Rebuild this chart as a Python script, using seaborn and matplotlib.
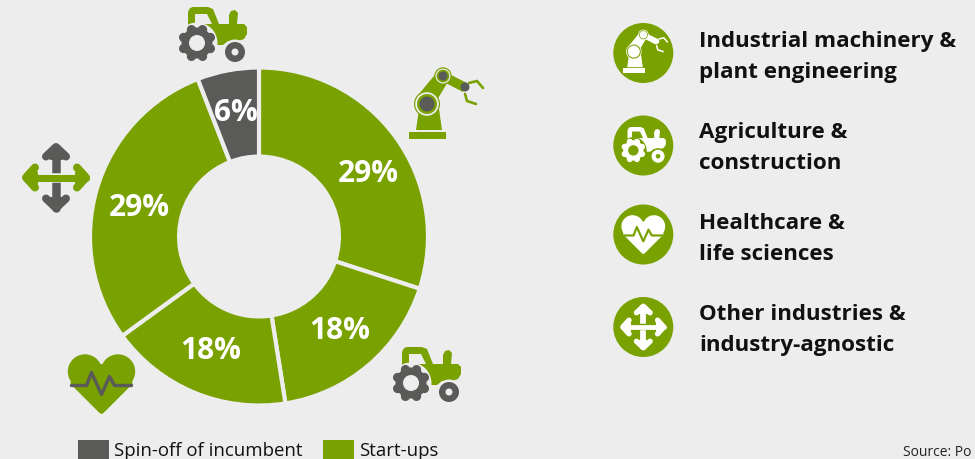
import numpy as np
import seaborn as sns
import matplotlib.pyplot as plt
from matplotlib.patches import Circle, Polygon, Rectangle, Patch
from matplotlib.lines import Line2D

industrias = ["Industrial machinery &\nplant engineering", "Agriculture &\nconstruction",
              "Healthcare &\nlife sciences", "Other industries &\nindustry-agnostic"]
valores = [30.0, 17.5, 17.5, 29.1, 5.9]
etiquetas = ["29%", "18%", "18%", "29%", "6%"]
tipo = ["Start-ups", "Start-ups", "Start-ups", "Start-ups", "Spin-off of incumbent"]
leyenda = ["Spin-off of incumbent", "Start-ups"]
fuente = "Source: Po"

VERDE = "#79A100"
GRIS = "#5A5A58"
FONDO = "#EDEDED"
colores = {"Start-ups": VERDE, "Spin-off of incumbent": GRIS}

sns.set_theme(style="white")
plt.rcParams["font.family"] = ["Open Sans", "DejaVu Sans"]

W, H = 975, 459
fig = plt.figure(figsize=(W / 100, H / 100), dpi=100, facecolor=FONDO)

# Capa en píxeles para iconos y textos
capa = fig.add_axes([0, 0, 1, 1], zorder=2)
capa.set_xlim(0, W)
capa.set_ylim(H, 0)
capa.axis("off")


def add_patch(p):
    capa.add_patch(p)
    return p


def tractor(x0, y0, s, cuerpo, rueda, fondo):
    def t(px, py):
        return (x0 + px * s, y0 + py * s)

    pts = [(10, 30), (10, 5), (12, 1), (15, 0), (30, 0), (35, 2), (41, 17), (51, 17), (51, 8), (53, 4),
           (57, 3), (60, 6), (59, 17), (66, 17), (69, 20), (69, 27), (66, 32), (60, 34), (50, 34),
           (45, 38), (25, 38)]
    add_patch(Polygon([t(*p) for p in pts], closed=True, fc=cuerpo, ec="none", zorder=3))
    ventana = [(17, 7), (29, 7), (34, 17), (17, 17)]
    add_patch(Polygon([t(*p) for p in ventana], closed=True, fc=fondo, ec="none", zorder=4))
    # rueda grande dentada
    add_patch(Circle(t(19, 36), 20.5 * s, fc=fondo, ec="none", zorder=4))
    add_patch(Circle(t(19, 36), 15.5 * s, fc=rueda, ec="none", zorder=5))
    for a in np.arange(0, 360, 45) + 22.5:
        dx, dy = np.cos(np.radians(a)), np.sin(np.radians(a))
        add_patch(Circle(t(19 + 14.5 * dx, 36 + 14.5 * dy), 4.6 * s, fc=rueda, ec="none", zorder=5))
    add_patch(Circle(t(19, 36), 8 * s, fc=fondo, ec="none", zorder=6))
    # rueda pequeña
    add_patch(Circle(t(57, 45), 12.5 * s, fc=fondo, ec="none", zorder=4))
    add_patch(Circle(t(57, 45), 10 * s, fc=rueda, ec="none", zorder=5))
    add_patch(Circle(t(57, 45), 3.5 * s, fc=fondo, ec="none", zorder=6))


def robot(x0, y0, s, cuerpo, junta, fondo):
    def t(px, py):
        return (x0 + px * s, y0 + py * s)

    lw = s * 0.72
    add_patch(Rectangle(t(0, 64), 37 * s, 7 * s, fc=cuerpo, ec="none", zorder=3))
    add_patch(Polygon([t(7, 62), t(33, 62), t(29, 34), t(11, 34)], closed=True, fc=cuerpo, ec="none", zorder=3))
    add_patch(Polygon([t(10, 26), t(28, 32), t(40, 12), t(29, 3)], closed=True, fc=cuerpo, ec="none", zorder=3))
    add_patch(Polygon([t(34, 3), t(31, 12), t(54, 24), t(58, 15)], closed=True, fc=cuerpo, ec="none", zorder=3))
    for c, r1, r2, r3 in [((18, 36), 11.8, 10, 7.5), ((34, 8), 7.5, 6.3, 4.5)]:
        add_patch(Circle(t(*c), (r1 + 1.2) * s, fc=cuerpo, ec="none", zorder=4))
        add_patch(Circle(t(*c), r1 * s, fc=fondo, ec="none", zorder=4))
        add_patch(Circle(t(*c), r2 * s, fc=cuerpo, ec="none", zorder=5))
        add_patch(Circle(t(*c), r3 * s, fc=junta, ec="none", zorder=6))
    add_patch(Circle(t(56, 19), 4.5 * s, fc=junta, ec="none", zorder=6))
    for dedo in ([(60, 15), (68, 13), (74, 20)], [(56, 26), (58, 33), (67, 36)]):
        x, y = zip(*[t(*p) for p in dedo])
        capa.add_line(Line2D(x, y, color=cuerpo, lw=2.6 * lw, zorder=3, solid_joinstyle="miter"))


def corazon(cx, cy, s, color, linea):
    def t(px, py):
        return (cx + px * s, cy + py * s)

    for dx in (-16.5, 16.5):
        add_patch(Circle(t(dx, -12.5), 17.2 * s, fc=color, ec="none", zorder=3))
    pts = [(-31, 0), (-29, 2), (-2, 29), (0, 30), (2, 29), (29, 2), (31, 0), (30, -10), (0, -20), (-30, -10)]
    add_patch(Polygon([t(*p) for p in pts], closed=True, fc=color, ec="none", zorder=3))
    pulso = [(-30, 1.5), (-15, 1.5), (-10, -11.5), (0, 10.5), (8, -7.5), (13, 1.5), (30, 1.5)]
    x, y = zip(*[t(*p) for p in pulso])
    capa.add_line(Line2D(x, y, color=linea, lw=3.4 * s * 0.72, zorder=4, solid_joinstyle="round"))


def flechas(cx, cy, s, vert, horiz, borde):
    def linea(pts, color, w, z):
        x = [cx + p[0] * s for p in pts]
        y = [cy + p[1] * s for p in pts]
        capa.add_line(Line2D(x, y, color=color, lw=w * s * 0.72, zorder=z,
                             solid_capstyle="round", solid_joinstyle="round"))

    linea([(0, -30), (0, 30)], vert, 8.5, 3)
    for sg in (-1, 1):
        linea([(-10, sg * 21), (0, sg * 30.5), (10, sg * 21)], vert, 8, 3)
        linea([(-5, sg * 23), (5, sg * 23)], vert, 9, 3)
    linea([(-28, 0), (28, 0)], borde, 9.5, 4)
    linea([(-30, 0), (30, 0)], horiz, 7, 5)
    for sg in (-1, 1):
        linea([(sg * 21, -10), (sg * 30, 0), (sg * 21, 10)], horiz, 8, 5)
        linea([(sg * 23, -5), (sg * 23, 5)], horiz, 9, 5)


# Donut
cx, cy, radio = 259, 236.5, 169
ax = fig.add_axes([(cx - radio) / W, 1 - (cy + radio) / H, 2 * radio / W, 2 * radio / H], zorder=1)
ax.pie(valores, colors=[colores[t] for t in tipo], startangle=90, counterclock=False, radius=1,
       wedgeprops=dict(width=0.527, edgecolor=FONDO, linewidth=3.0))
ax.set_xlim(-1, 1)
ax.set_ylim(-1, 1)

# Etiquetas de porcentaje
pos_etiquetas = [(368, 174), (340, 331), (211, 351), (139, 208), (236, 113)]
for (x, y), e in zip(pos_etiquetas, etiquetas):
    capa.text(x, y, e, color="white", fontsize=21.5, fontweight="bold", ha="center", va="center", zorder=7)

# Iconos alrededor del donut
tractor(178, 7, 1, VERDE, GRIS, FONDO)
tractor(392, 347, 1, VERDE, GRIS, FONDO)
robot(409, 68, 1, VERDE, GRIS, FONDO)
corazon(101.5, 384, 1, VERDE, GRIS)
flechas(56, 177.5, 1, GRIS, VERDE, FONDO)

# Lista de industrias: cada línea en su línea base
ys = [53, 145.5, 234.5, 327]
bases = [47, 138, 229, 320]
for y, base, txt in zip(ys, bases, industrias):
    add_patch(Circle((643.3, y), 30, fc=VERDE, ec="none", zorder=2))
    for i, parte in enumerate(txt.split("\n")):
        capa.text(699, base + i * 31, parte, fontsize=16.1, fontweight="bold", color="#111111",
                  ha="left", va="baseline", zorder=7)
robot(623, 30, 0.6, "white", "white", VERDE)
tractor(621, 127, 0.65, "white", "white", VERDE)
corazon(643.3, 234.5, 0.65, "white", VERDE)
flechas(643.3, 327, 0.68, "white", "white", VERDE)

# Leyenda
handles = [Patch(fc=colores[n], ec="none", label=n) for n in leyenda]
capa.legend(handles=handles, ncol=2, frameon=False, loc="center left", fontsize=13.4,
            bbox_to_anchor=(78 / W, 1 - 450 / H), bbox_transform=fig.transFigure,
            borderaxespad=0, borderpad=0, handlelength=1.67, handleheight=1.2,
            handletextpad=0.25, columnspacing=1.13, labelcolor="#111111")

capa.text(903, 456, fuente, fontsize=10, color="#222222", ha="left", va="baseline", zorder=7)

plt.savefig("out.png", dpi=100, facecolor=FONDO)
